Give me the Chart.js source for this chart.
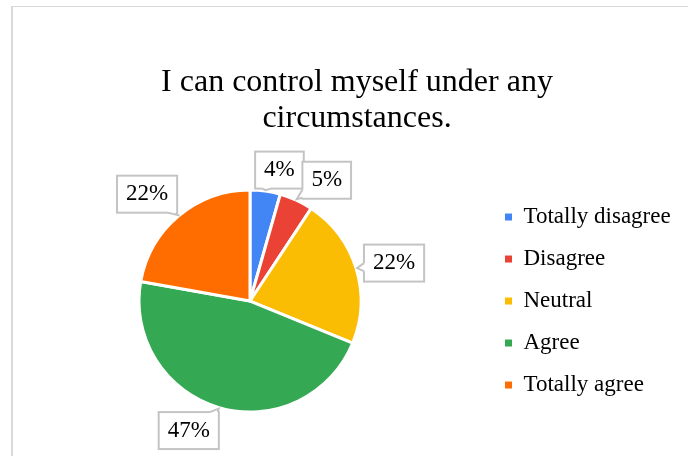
<!DOCTYPE html>
<html>
<head>
<meta charset="utf-8">
<script src="https://cdn.jsdelivr.net/npm/chart.js@4.4.1/dist/chart.umd.min.js"></script>
<style>
  html, body { margin: 0; padding: 0; background: #fff; overflow: hidden; width: 688px; height: 456px; }
  #wrap { position: absolute; left: 10px; top: 7px; }
  #frame { position: absolute; left: 11px; top: 6px; width: 720px; height: 500px;
           border-left: 2px solid #d9d9d9; border-top: 1px solid #d9d9d9; pointer-events: none; }
</style>
</head>
<body>
<div id="wrap"><canvas id="pie" width="690" height="470"></canvas></div>
<div id="frame"></div>
<script>
const labels = ['Totally disagree', 'Disagree', 'Neutral', 'Agree', 'Totally agree'];
const shares = [4.4, 4.9, 21.9, 46.6, 22.2];
const sliceColors = ['#4285f4', '#ea4335', '#fbbc04', '#34a853', '#ff6d01'];
const titleLines = ['I can control myself under any', 'circumstances.'];

// callout box centre, relative to the outer mid-point of its slice
const calloutOffsets = [[14, -20], [30, -19], [37, -5], [-30, 22], [-31, -21]];

const serif = 'Liberation Serif';

// boxed percentage labels with a small pointer tail
const callouts = {
  id: 'callouts',
  afterDatasetsDraw(chart, args, opts) {
    const ctx = chart.ctx;
    const meta = chart.getDatasetMeta(0);
    const data = chart.data.datasets[0].data;
    const total = data.reduce((s, v) => s + v, 0);
    ctx.save();
    ctx.font = opts.size + 'px "' + serif + '"';
    ctx.textAlign = 'center';
    ctx.textBaseline = 'middle';
    meta.data.forEach((arc, i) => {
      const p = arc.getProps(['x', 'y', 'startAngle', 'endAngle', 'outerRadius'], true);
      const mid = (p.startAngle + p.endAngle) / 2;
      const ax = p.x + Math.cos(mid) * (p.outerRadius + 1);
      const ay = p.y + Math.sin(mid) * (p.outerRadius + 1);
      const text = Math.round(data[i] / total * 100) + '%';
      const w = ctx.measureText(text).width + opts.padX * 2;
      const h = opts.height;
      const cx = ax + opts.offsets[i][0];
      const cy = ay + opts.offsets[i][1];
      const left = cx - w / 2, top = cy - h / 2;

      ctx.fillStyle = '#fff';
      ctx.strokeStyle = opts.borderColor;
      ctx.lineWidth = opts.borderWidth;
      ctx.fillRect(left, top, w, h);
      ctx.strokeRect(left, top, w, h);

      // tail from the box edge to the slice
      const dx = ax - cx, dy = ay - cy;
      const tx = dx ? (w / 2) / Math.abs(dx) : Infinity;
      const ty = dy ? (h / 2) / Math.abs(dy) : Infinity;
      if (Math.min(tx, ty) < 1) {
        let b1, b2, n1, n2;
        if (tx < ty) {
          const sx = Math.sign(dx);
          const ex = cx + sx * w / 2;
          const ey = Math.max(top + 5, Math.min(top + h - 5, cy + dy * tx));
          b1 = [ex, ey - 4]; b2 = [ex, ey + 4];
          n1 = [ex - sx * 2, ey - 4]; n2 = [ex - sx * 2, ey + 4];
        } else {
          const sy = Math.sign(dy);
          const ey = cy + sy * h / 2;
          const ex = Math.max(left + 5, Math.min(left + w - 5, cx + dx * ty));
          b1 = [ex - 4, ey]; b2 = [ex + 4, ey];
          n1 = [ex - 4, ey - sy * 2]; n2 = [ex + 4, ey - sy * 2];
        }
        ctx.beginPath();
        ctx.moveTo(n1[0], n1[1]);
        ctx.lineTo(b1[0], b1[1]);
        ctx.lineTo(ax, ay);
        ctx.lineTo(b2[0], b2[1]);
        ctx.lineTo(n2[0], n2[1]);
        ctx.closePath();
        ctx.fill();
        ctx.beginPath();
        ctx.moveTo(b1[0], b1[1]);
        ctx.lineTo(ax, ay);
        ctx.lineTo(b2[0], b2[1]);
        ctx.stroke();
      }

      ctx.fillStyle = opts.color;
      ctx.fillText(text, cx, cy);
    });
    ctx.restore();
  }
};

// widen the legend box so the pie sits further left
const legendWidth = {
  id: 'legendWidth',
  beforeInit(chart) {
    const fit = chart.legend.fit;
    chart.legend.fit = function () {
      fit.call(this);
      this.width = 214;
    };
  }
};

new Chart(document.getElementById('pie'), {
  type: 'pie',
  data: {
    labels,
    datasets: [{
      data: shares,
      backgroundColor: sliceColors,
      borderColor: '#fff',
      borderWidth: 3
    }]
  },
  options: {
    responsive: false,
    animation: false,
    events: [],
    radius: 111,
    layout: { padding: { left: 4, right: 0, top: 0, bottom: 22 } },
    plugins: {
      title: {
        display: true,
        text: titleLines,
        color: '#000',
        font: { family: serif, size: 32, weight: 'normal', lineHeight: 1.11 },
        padding: { top: 58, bottom: 11 }
      },
      legend: {
        position: 'right',
        fullSize: false,
        labels: {
          boxWidth: 7,
          boxHeight: 7,
          padding: 19,
          color: '#000',
          font: { family: serif, size: 23 },
          generateLabels(chart) {
            const items = Chart.overrides.pie.plugins.legend.labels.generateLabels(chart);
            items.forEach(it => { it.lineWidth = 0; });
            return items;
          }
        }
      },
      tooltip: { enabled: false },
      callouts: {
        size: 23,
        padX: 9,
        height: 37,
        borderColor: '#c4c4c4',
        borderWidth: 2,
        color: '#000',
        offsets: calloutOffsets
      }
    }
  },
  plugins: [callouts, legendWidth]
});
</script>
</body>
</html>
